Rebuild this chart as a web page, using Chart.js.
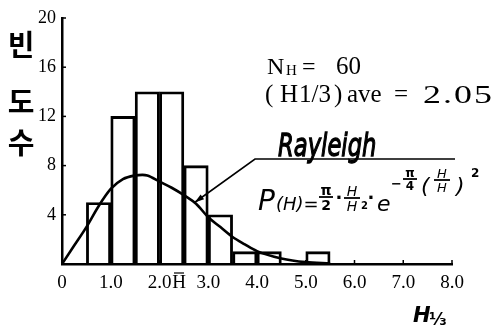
<!DOCTYPE html>
<html><head><meta charset="utf-8">
<script src="https://cdn.jsdelivr.net/npm/chart.js@4.4.0/dist/chart.umd.min.js"></script>
<style>html,body{margin:0;padding:0;background:#fff;overflow:hidden}</style>
</head><body>
<canvas id="c" width="499" height="334"></canvas>
<script>
// ---- data ----
const binStarts = [0.5, 1.0, 1.5, 2.0, 2.5, 3.0, 3.5, 4.0, 4.5, 5.0];
const binCounts = [5, 12, 14, 14, 8, 4, 1, 1, 0, 1];
const binWidth = 0.5;
const curveH = [0, 0.25, 0.5, 0.75, 1.0, 1.25, 1.5, 1.65, 1.75, 2.0, 2.25, 2.5, 2.75, 3.0, 3.25, 3.5, 3.75, 4.0, 4.5, 5.0, 5.5];
const curveP = [0, 1.5, 3.0, 4.7, 6.1, 6.9, 7.2, 7.25, 7.2, 6.7, 6.2, 5.6, 4.9, 3.8, 3.0, 2.2, 1.6, 1.05, 0.45, 0.15, 0.05];
const xTicks = [0, 1, 2, 3, 4, 5, 6, 7, 8];
const xTickLabels = ['0', '1.0', '2.0', '3.0', '4.0', '5.0', '6.0', '7.0', '8.0'];
const yTicks = [4, 8, 12, 16, 20];
const yTickLabels = ['4', '8', '12', '16', '20'];
const yTitleChars = ['빈', '도', '수'];
const meanLabel = 'H';
const meanValue = 2.4;
const arrowAt = [2.72, 5.0];

const SERIF = '"Liberation Serif", "Times New Roman", serif';
const HAND = '"DejaVu Sans", sans-serif';

function txt(ctx, s, x, y, font, align, base) {
  ctx.font = font; ctx.textAlign = align || 'left'; ctx.textBaseline = base || 'alphabetic';
  ctx.fillText(s, x, y);
}
function frac(ctx, num, den, cx, yBar, w, font) {
  txt(ctx, num, cx, yBar - 2, font, 'center');
  ctx.beginPath(); ctx.moveTo(cx - w / 2, yBar); ctx.lineTo(cx + w / 2, yBar); ctx.stroke();
  txt(ctx, den, cx, yBar + 2, font, 'center', 'top');
}

const annot = {
  id: 'annot',
  afterDraw(chart) {
    const ctx = chart.ctx, xs = chart.scales.x, ys = chart.scales.y;
    ctx.save();
    ctx.fillStyle = '#000'; ctx.strokeStyle = '#000';
    // inner tick marks
    ctx.lineWidth = 1.5;
    xTicks.forEach(v => { const p = xs.getPixelForValue(v); ctx.beginPath(); ctx.moveTo(p, ys.bottom); ctx.lineTo(p, ys.bottom - 4); ctx.stroke(); });
    yTicks.forEach(v => { const p = ys.getPixelForValue(v); ctx.beginPath(); ctx.moveTo(xs.left, p); ctx.lineTo(xs.left + 4, p); ctx.stroke(); });
    // mean label under x axis
    const mx = xs.getPixelForValue(meanValue);
    txt(ctx, meanLabel, mx, ys.bottom + 10, '19px ' + SERIF, 'center', 'top');
    ctx.lineWidth = 1.2;
    ctx.beginPath(); ctx.moveTo(mx - 5, ys.bottom + 9); ctx.lineTo(mx + 5, ys.bottom + 9); ctx.stroke();
    // y title (vertical Korean)
    const yc = [45, 102, 143];
    yTitleChars.forEach((c, i) => txt(ctx, c, 21, yc[i], 'bold 29px "Noto Sans CJK KR"', 'center', 'middle'));
    // x title
    txt(ctx, 'H', 413, 322, 'bold italic 21px ' + HAND, 'left');
    txt(ctx, '⅓', 429, 325, 'bold 17px ' + HAND, 'left');
    // N_H = 60
    txt(ctx, 'N', 267, 74, '24px ' + SERIF);
    txt(ctx, 'H', 286, 75, '15px ' + SERIF);
    txt(ctx, '=', 302, 74, '24px ' + SERIF);
    txt(ctx, '60', 336, 74, '25px ' + SERIF);
    // (H1/3) ave = 2.05
    txt(ctx, '(', 265, 102, '25px ' + SERIF);
    txt(ctx, 'H', 280, 102, '25px ' + SERIF);
    txt(ctx, '1/3', 299, 102, '25px ' + SERIF);
    txt(ctx, ')', 334, 102, '25px ' + SERIF);
    txt(ctx, 'ave', 347, 102, '25px ' + SERIF);
    txt(ctx, '=', 394, 102, '25px ' + SERIF);
    ctx.save();
    ctx.translate(423, 103); ctx.scale(1.38, 1);
    ctx.letterSpacing = '1.5px';
    txt(ctx, '2.05', 0, 0, '26px ' + SERIF);
    ctx.restore();
    // Rayleigh
    ctx.save();
    ctx.translate(278, 156); ctx.scale(0.84, 1.18);
    ctx.font = 'italic 27px ' + HAND; ctx.textAlign = 'left'; ctx.textBaseline = 'alphabetic';
    ctx.lineWidth = 1.1;
    ctx.fillText('Rayleigh', 0, 0); ctx.strokeText('Rayleigh', 0, 0);
    ctx.restore();
    // underline + leader + arrow
    const tx = xs.getPixelForValue(arrowAt[0]), ty = ys.getPixelForValue(arrowAt[1]);
    ctx.lineWidth = 1.6;
    ctx.beginPath(); ctx.moveTo(455, 159); ctx.lineTo(255, 159); ctx.lineTo(tx, ty); ctx.stroke();
    const ang = Math.atan2(ty - 159, tx - 255);
    ctx.beginPath();
    ctx.moveTo(tx, ty);
    ctx.lineTo(tx - 10 * Math.cos(ang - 0.3), ty - 10 * Math.sin(ang - 0.3));
    ctx.lineTo(tx - 10 * Math.cos(ang + 0.3), ty - 10 * Math.sin(ang + 0.3));
    ctx.closePath(); ctx.fill();
    // formula
    ctx.lineWidth = 1.8;
    txt(ctx, 'P', 258, 210, 'italic 28px ' + HAND);
    txt(ctx, '(H)=', 276, 210, 'italic 18px ' + HAND);
    frac(ctx, 'π', '2', 326, 197, 14, 'bold 14px ' + HAND);
    txt(ctx, '·', 339, 204, 'bold 18px ' + HAND, 'center');
    frac(ctx, 'H', 'H', 352, 198, 16, 'italic 14px ' + HAND);
    txt(ctx, '2', 361, 209, 'bold 10px ' + HAND);
    txt(ctx, '·', 371, 204, 'bold 18px ' + HAND, 'center');
    txt(ctx, 'e', 377, 211, 'italic 22px ' + HAND);
    txt(ctx, '−', 391, 188, 'bold 13px ' + HAND);
    frac(ctx, 'π', '4', 410, 179, 14, 'bold 12px ' + HAND);
    txt(ctx, '(', 421, 193, 'italic 22px ' + HAND);
    frac(ctx, 'H', 'H', 442, 180, 16, 'italic 13px ' + HAND);
    txt(ctx, ')', 456, 193, 'italic 22px ' + HAND);
    txt(ctx, '2', 471, 177, 'bold 12px ' + HAND);
    ctx.restore();
  }
};

const bars = binStarts.map((s, i) => ({ x: s + binWidth / 2, y: binCounts[i] }));
const curve = curveH.map((h, i) => ({ x: h, y: curveP[i] }));

new Chart(document.getElementById('c'), {
  type: 'bar',
  data: {
    datasets: [
      { type: 'line', data: curve, borderColor: '#000', borderWidth: 2.6, pointRadius: 0, fill: false, cubicInterpolationMode: 'monotone', order: 0 },
      { type: 'bar', data: bars, backgroundColor: 'rgba(0,0,0,0)', borderColor: '#000', borderWidth: 2.2, barPercentage: 1, categoryPercentage: 1, grouped: false, borderSkipped: 'bottom', order: 1 }
    ]
  },
  options: {
    responsive: false, animation: false, devicePixelRatio: 1,
    layout: { padding: { left: 0, right: 47, top: 18, bottom: 0 } },
    plugins: { legend: { display: false }, tooltip: { enabled: false } },
    scales: {
      x: {
        type: 'linear', min: 0, max: 8, offset: false,
        afterBuildTicks: s => { s.ticks = xTicks.map(v => ({ value: v })); },
        afterFit: s => { s.height = 70; },
        ticks: { callback: (v, i) => xTickLabels[i], color: '#000', font: { family: SERIF, size: 19 }, padding: 8, maxRotation: 0, autoSkip: false },
        grid: { display: false, drawTicks: false },
        border: { display: true, color: '#000', width: 2.5 }
      },
      y: {
        min: 0, max: 20,
        afterBuildTicks: s => { s.ticks = yTicks.map(v => ({ value: v })); },
        afterFit: s => { s.width = 62; },
        ticks: { callback: (v, i) => yTickLabels[i], color: '#000', font: { family: SERIF, size: 18 }, padding: 6 },
        grid: { display: false, drawTicks: false },
        border: { display: true, color: '#000', width: 2.5 }
      }
    }
  },
  plugins: [annot]
});
</script>
</body></html>
